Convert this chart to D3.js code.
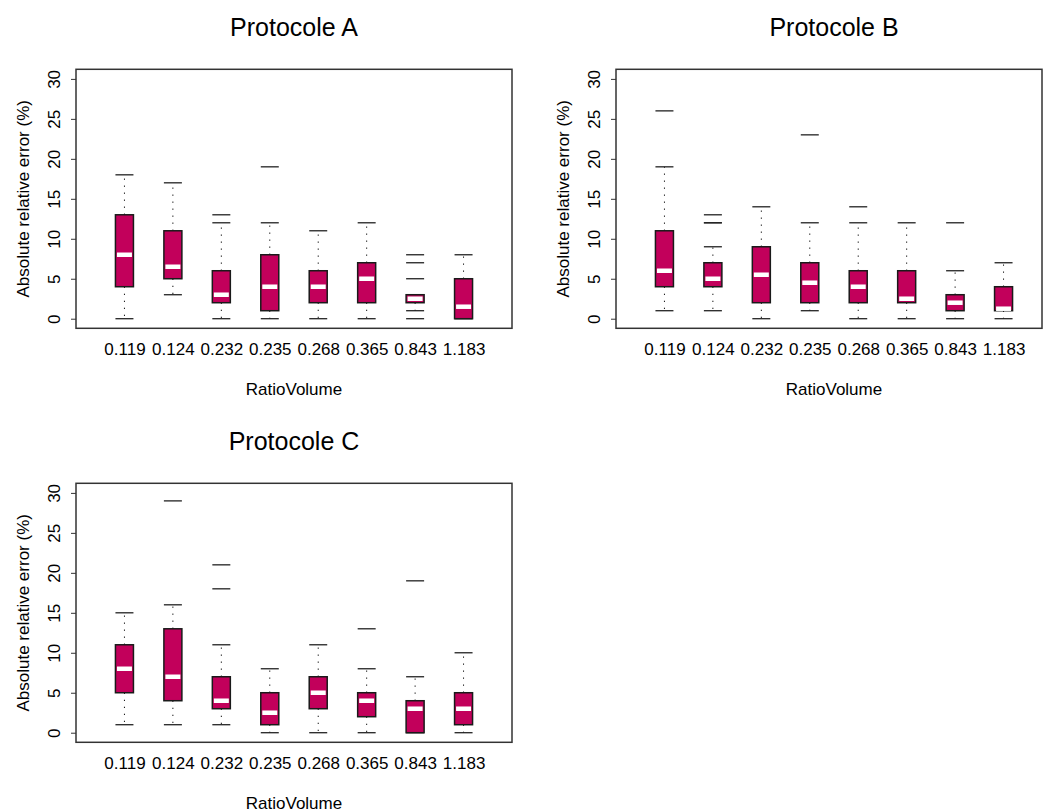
<!DOCTYPE html>
<html>
<head>
<meta charset="utf-8">
<script src="https://cdn.jsdelivr.net/npm/d3@7"></script>
<style>
  body { margin: 0; background: #fff; }
  text { font-family: "Liberation Sans", Arial, sans-serif; fill: #000; }
</style>
</head>
<body>
<div id="chart"></div>
<script>
// RatioVolume categories, shared by the three panels
var categories = ["0.119", "0.124", "0.232", "0.235", "0.268", "0.365", "0.843", "1.183"];
var yTicks = [0, 5, 10, 15, 20, 25, 30];

// Protocole A
var lowA  = [0, 3, 0, 0, 0, 0, 1, 0];
var q1A   = [4, 5, 2, 1, 2, 2, 2, 0];
var medA  = [8, 6.5, 3, 4, 4, 5, 2.5, 1.5];
var q3A   = [13, 11, 6, 8, 6, 7, 3, 5];
var highA = [18, 17, 12, 12, 11, 12, 3, 8];
var outA  = [[], [], [13], [19], [], [], [8, 7, 5, 0], []];

// Protocole B
var lowB  = [1, 1, 0, 1, 0, 0, 0, 0];
var q1B   = [4, 4, 2, 2, 2, 2, 1, 1];
var medB  = [6, 5, 5.5, 4.5, 4, 2.5, 2, 1.25];
var q3B   = [11, 7, 9, 7, 6, 6, 3, 4];
var highB = [19, 9, 14, 12, 12, 12, 6, 7];
var outB  = [[26], [13, 12, 12], [], [23], [14], [], [12], []];

// Protocole C
var lowC  = [1, 1, 1, 0, 0, 0, 0, 0];
var q1C   = [5, 4, 3, 1, 3, 2, 0, 1];
var medC  = [8, 7, 4, 2.5, 5, 4, 3, 3];
var q3C   = [11, 13, 7, 5, 7, 5, 4, 5];
var highC = [15, 16, 11, 8, 11, 8, 7, 10];
var outC  = [[], [29], [21, 18], [], [], [13], [19], []];

var svg = d3.select("#chart")
    .append("svg")
    .attr("width", 1043)
    .attr("height", 812);

svg.append("rect").attr("width", 1043).attr("height", 812).attr("fill", "#fff");

var plotW = 436, plotH = 259, boxW = 18;
var fillCol = "#c2005b";

function drawPanel(left, top, title, low, q1, med, q3, high, outl) {
  var g = svg.append("g")
      .attr("transform", "translate(" + left + "," + top + ")");

  var x = d3.scaleLinear().domain([0, 9]).range([0, plotW]);
  var y = d3.scaleLinear().domain([-1.2, 31.2]).range([plotH, 0]);

  var rows = categories.map(function(c, i) {
    return {cat: c, pos: i + 1, low: low[i], q1: q1[i], med: med[i], q3: q3[i], high: high[i], out: outl[i]};
  });

  // frame (the right panel runs off the picture, so its frame stops at the edge)
  var frameW = Math.min(plotW, 1042 - left);
  g.append("rect")
      .attr("width", frameW)
      .attr("height", plotH)
      .attr("fill", "none")
      .attr("stroke", "#333")
      .attr("stroke-width", 1.5);

  // y axis
  var yAxis = g.append("g")
      .attr("class", "axis axis--y")
      .call(d3.axisLeft(y).tickValues(yTicks).tickSize(5).tickSizeOuter(0));
  yAxis.select(".domain").remove();
  yAxis.selectAll("line").attr("stroke", "#333");
  yAxis.selectAll("text")
      .attr("transform", "rotate(-90)")
      .attr("x", 0)
      .attr("y", -16.5)
      .attr("dy", 0)
      .attr("text-anchor", "middle")
      .style("font-size", "17px");

  // x axis, labels only
  var xAxis = g.append("g")
      .attr("class", "axis axis--x")
      .attr("transform", "translate(0," + plotH + ")")
      .call(d3.axisBottom(x).tickValues(d3.range(1, 9)).tickSize(0)
          .tickFormat(function(d) { return categories[d - 1]; }));
  xAxis.select(".domain").remove();
  xAxis.selectAll("text")
      .attr("y", 26.5)
      .attr("dy", 0)
      .style("font-size", "17px");

  var box = g.selectAll(".box")
      .data(rows)
    .enter().append("g")
      .attr("class", "box")
      .attr("transform", function(d) { return "translate(" + x(d.pos) + ",0)"; });

  // dotted whiskers
  box.append("line")
      .attr("y1", function(d) { return y(d.q3); })
      .attr("y2", function(d) { return y(d.high); })
      .attr("stroke", "#000")
      .attr("stroke-dasharray", "1.2,5.8");
  box.append("line")
      .attr("y1", function(d) { return y(d.q1); })
      .attr("y2", function(d) { return y(d.low); })
      .attr("stroke", "#000")
      .attr("stroke-dasharray", "1.2,5.8");

  // staples
  box.selectAll(".staple")
      .data(function(d) { return [d.low, d.high]; })
    .enter().append("line")
      .attr("class", "staple")
      .attr("x1", -boxW / 2).attr("x2", boxW / 2)
      .attr("y1", function(v) { return y(v); })
      .attr("y2", function(v) { return y(v); })
      .attr("stroke", "#222")
      .attr("stroke-width", 1.3);

  // outliers, drawn as short dashes
  box.selectAll(".outlier")
      .data(function(d) { return d.out; })
    .enter().append("line")
      .attr("class", "outlier")
      .attr("x1", -boxW / 2).attr("x2", boxW / 2)
      .attr("y1", function(v) { return y(v); })
      .attr("y2", function(v) { return y(v); })
      .attr("stroke", "#222")
      .attr("stroke-width", 1.3);

  box.append("rect")
      .attr("x", -boxW / 2)
      .attr("width", boxW)
      .attr("y", function(d) { return y(d.q3); })
      .attr("height", function(d) { return Math.max(0.5, y(d.q1) - y(d.q3)); })
      .attr("fill", fillCol)
      .attr("stroke", "#1a1a1a")
      .attr("stroke-width", 1.5);

  box.append("line")
      .attr("x1", -boxW / 2 + 1.5).attr("x2", boxW / 2 - 1.5)
      .attr("y1", function(d) { return y(d.med); })
      .attr("y2", function(d) { return y(d.med); })
      .attr("stroke", "#fff")
      .attr("stroke-width", 4.5);

  // titles
  g.append("text")
      .attr("x", plotW / 2)
      .attr("y", -33)
      .attr("text-anchor", "middle")
      .style("font-size", "25px")
      .text(title);

  g.append("text")
      .attr("x", plotW / 2)
      .attr("y", plotH + 67)
      .attr("text-anchor", "middle")
      .style("font-size", "17px")
      .text("RatioVolume");

  g.append("text")
      .attr("transform", "translate(-47," + (plotH / 2) + ") rotate(-90)")
      .attr("text-anchor", "middle")
      .style("font-size", "17px")
      .text("Absolute relative error (%)");
}

drawPanel(76, 69.3, "Protocole A", lowA, q1A, medA, q3A, highA, outA);
drawPanel(616, 69.3, "Protocole B", lowB, q1B, medB, q3B, highB, outB);
drawPanel(76, 483.3, "Protocole C", lowC, q1C, medC, q3C, highC, outC);
</script>
</body>
</html>
